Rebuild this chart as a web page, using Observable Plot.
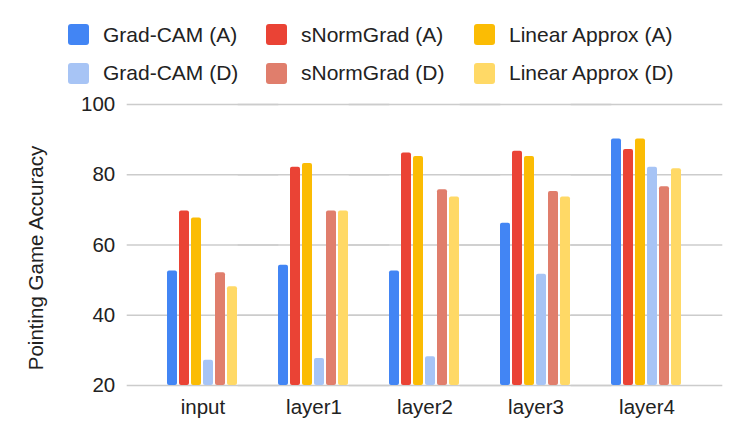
<!DOCTYPE html>
<html>
<head>
<meta charset="utf-8">
<script src="https://cdn.jsdelivr.net/npm/d3@7"></script>
<script src="https://cdn.jsdelivr.net/npm/@observablehq/plot@0.6"></script>
<style>
  html, body { margin: 0; padding: 0; background: #fff; }
  body { width: 747px; height: 442px; overflow: hidden; font-family: "Liberation Sans", Arial, sans-serif; }
  #legend { position: relative; height: 90px; box-sizing: border-box; padding: 24px 0 0 68px;
    display: grid; grid-template-columns: 198px 208px auto; row-gap: 11px; }
  .item { display: flex; align-items: center; height: 21px; font-size: 21px; color: #222; white-space: nowrap; }
  .sw { width: 21px; height: 21px; border-radius: 3px; margin-right: 14px; flex: none; }
</style>
</head>
<body>
<div id="legend"></div>
<div id="chart"></div>
<script>
const categories = ["input", "layer1", "layer2", "layer3", "layer4"];
const seriesNames = ["Grad-CAM (A)", "sNormGrad (A)", "Linear Approx (A)", "Grad-CAM (D)", "sNormGrad (D)", "Linear Approx (D)"];
const seriesColors = ["#4285F4", "#EA4335", "#FBBC04", "#A7C4F5", "#E07E6C", "#FFD966"];
const gradCamA   = [52.6, 54.2, 52.6, 66.2, 90.2];
const sNormGradA = [69.7, 82.1, 86.2, 86.7, 87.2];
const linearA    = [67.7, 83.2, 85.2, 85.2, 90.2];
const gradCamD   = [27.2, 27.7, 28.2, 51.7, 82.1];
const sNormGradD = [52.1, 69.7, 75.7, 75.2, 76.6];
const linearD    = [48.1, 69.7, 73.7, 73.7, 81.7];
const seriesValues = [gradCamA, sNormGradA, linearA, gradCamD, sNormGradD, linearD];
const yTicks = [20, 40, 60, 80, 100];
const yTitle = "Pointing Game Accuracy";

// legend (rows: A series, then D series)
const legend = document.getElementById("legend");
seriesNames.forEach((name, i) => {
  const item = document.createElement("div");
  item.className = "item";
  const sw = document.createElement("span");
  sw.className = "sw";
  sw.style.background = seriesColors[i];
  item.appendChild(sw);
  item.appendChild(document.createTextNode(name));
  legend.appendChild(item);
});

const data = categories.flatMap((c, i) =>
  seriesNames.map((s, j) => ({category: c, series: s, value: seriesValues[j][i]})));

const W = 747, ML = 125, MR = 22, PAD = 0.36;
// gap between facet bands (so grid lines can bridge the gaps)
const gap = ((W - ML - MR) / (categories.length + PAD)) * PAD;

const chart = Plot.plot({
  width: W,
  height: 352,
  marginTop: 14,
  marginBottom: 57,
  marginLeft: ML,
  marginRight: MR,
  style: {fontFamily: '"Liberation Sans", Arial, sans-serif', fontSize: "20.5px", color: "#222", background: "#fff"},
  fx: {domain: categories, paddingInner: PAD, paddingOuter: PAD, axis: "bottom", label: null, tickSize: 0, tickPadding: 14},
  x: {domain: seriesNames, paddingInner: 0.15, paddingOuter: 0, axis: null},
  y: {domain: [20, 100], axis: null},
  color: {domain: seriesNames, range: seriesColors},
  marks: [
    Plot.ruleY(yTicks, {y: d => d, stroke: "#cccccc", strokeWidth: 1.5, insetLeft: -gap, insetRight: -gap}),
    Plot.text(yTicks, {fx: () => categories[0], y: d => d, text: d => String(d), frameAnchor: "left", textAnchor: "end", dx: -12 - gap, fill: "#222"}),
    Plot.text([yTitle], {fx: () => categories[0], text: d => d, frameAnchor: "left", textAnchor: "middle", dx: -91 - gap, dy: 13, rotate: -90, fill: "#222"}),
    Plot.barY(data, {fx: "category", x: "series", y1: 20, y2: "value", fill: "series", rx: 2})
  ]
});
document.getElementById("chart").appendChild(chart);
</script>
</body>
</html>
